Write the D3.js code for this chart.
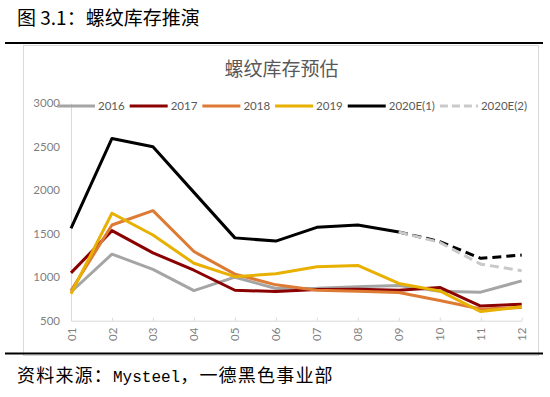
<!DOCTYPE html>
<html>
<head>
<meta charset="utf-8">
<script src="https://cdn.jsdelivr.net/npm/d3@7"></script>
<style>
  body { margin: 0; background: #fff; }
  svg { display: block; }
</style>
</head>
<body>
<div id="chart"></div>
<script>
// 月份
const months = ['01', '02', '03', '04', '05', '06', '07', '08', '09', '10', '11', '12'];
const yTicks = [500, 1000, 1500, 2000, 2500, 3000];

// 各年螺纹库存（万吨）
const inv2016 = [830, 1265, 1090, 845, 1000, 870, 872, 890, 905, 838, 828, 958];
const inv2017 = [1050, 1535, 1280, 1080, 850, 835, 860, 862, 850, 882, 668, 690];
const inv2018 = [845, 1600, 1765, 1295, 1035, 912, 850, 838, 825, 732, 635, 652];
const inv2019 = [810, 1735, 1485, 1160, 1006, 1040, 1121, 1135, 928, 842, 605, 660];
const inv2020E1 = [1560, 2595, 2500, 1975, 1452, 1415, 1573, 1600, 1520, 1410, 1217, 1255];
const inv2020E2 = [null, null, null, null, null, null, null, null, 1520, 1400, 1150, 1075];
const forecastFrom = 8; // 09 之后为预估

const seriesNames = ['2016', '2017', '2018', '2019', '2020E(1)', '2020E(2)'];
const seriesColors = ['#a5a5a5', '#8b0000', '#dd7a33', '#e8b000', '#000000', '#c9c9c9'];

const W = 550, H = 397;
const plot = { left: 71, right: 521.7, top: 103.2, bottom: 320.7 };

const svg = d3.select('#chart').append('svg')
  .attr('width', W)
  .attr('height', H);

// 标题与横线
svg.append('text')
  .attr('x', 17).attr('y', 25)
  .style('font-family', '"Noto Sans CJK SC"')
  .style('font-size', '19px')
  .style('fill', '#000')
  .text('图 3.1：螺纹库存推演');

svg.append('rect')
  .attr('x', 23.5).attr('y', 45.5)
  .attr('width', 515).attr('height', 310)
  .style('fill', 'none')
  .style('stroke', '#d9d9d9');

svg.append('line')
  .attr('x1', 5).attr('x2', 543).attr('y1', 43).attr('y2', 43)
  .style('stroke', '#000').style('stroke-width', 2);

svg.append('line')
  .attr('x1', 5).attr('x2', 543).attr('y1', 353.5).attr('y2', 353.5)
  .style('stroke', '#000').style('stroke-width', 2);

svg.append('text')
  .attr('x', 17).attr('y', 382)
  .style('font-family', '"Noto Sans CJK SC"')
  .style('font-size', '18px')
  .style('fill', '#000')
  .call(t => {
    t.append('tspan').style('letter-spacing', '1.2px').text('资料来源：');
    t.append('tspan').style('font-family', '"Liberation Mono"').style('font-size', '16px').text('Mysteel');
    t.append('tspan').style('letter-spacing', '1.2px').text('，一德黑色事业部');
  });

// 图表标题
svg.append('text')
  .attr('x', 281.5).attr('y', 76)
  .attr('text-anchor', 'middle')
  .style('font-family', '"Noto Sans CJK SC"')
  .style('font-size', '19px')
  .style('fill', '#595959')
  .text('螺纹库存预估');

// 比例尺
const x = d3.scalePoint().domain(months).range([plot.left, plot.right]);
const y = d3.scaleLinear().domain([500, 3000]).range([plot.bottom, plot.top]);

// Y 轴
const yAxis = svg.append('g')
  .attr('transform', `translate(${plot.left},0)`)
  .call(d3.axisLeft(y).tickValues(yTicks).tickFormat(d3.format('d')).tickSize(0).tickPadding(11));
yAxis.select('.domain').style('stroke', '#d9d9d9');
yAxis.selectAll('text')
  .style('font-family', 'Lato')
  .style('font-size', '11.5px')
  .style('fill', '#7f7f7f');

// X 轴
const xAxis = svg.append('g')
  .attr('transform', `translate(0,${plot.bottom})`)
  .call(d3.axisBottom(x).tickSizeInner(-3).tickSizeOuter(0));
xAxis.select('.domain').style('stroke', '#d9d9d9');
xAxis.selectAll('.tick line').style('stroke', '#d9d9d9');
xAxis.selectAll('text')
  .attr('transform', 'rotate(-90)')
  .attr('x', -7).attr('y', 0).attr('dy', '0.35em')
  .attr('text-anchor', 'end')
  .style('font-family', 'Lato')
  .style('font-size', '11.5px')
  .style('fill', '#7f7f7f');

// 折线
const line = d3.line()
  .defined(d => d[1] != null)
  .x(d => x(d[0]))
  .y(d => y(d[1]));

const pairs = arr => months.map((m, i) => [m, arr[i]]);

const lines = svg.append('g')
  .style('fill', 'none')
  .style('stroke-width', 3)
  .style('stroke-linejoin', 'round');

[inv2016, inv2017, inv2018, inv2019].forEach((arr, i) => {
  lines.append('path')
    .attr('d', line(pairs(arr)))
    .style('stroke', seriesColors[i]);
});

// 2020E(1)：实际部分实线，预估部分虚线
const e1 = pairs(inv2020E1);
lines.append('path')
  .attr('d', line(e1.slice(0, forecastFrom + 1)))
  .style('stroke', seriesColors[4]);
lines.append('path')
  .attr('d', line(e1.slice(forecastFrom)))
  .style('stroke', seriesColors[4])
  .style('stroke-dasharray', '9,5');

lines.append('path')
  .attr('d', line(pairs(inv2020E2)))
  .style('stroke', seriesColors[5])
  .style('stroke-dasharray', '9,5');

// 图例
const legend = svg.append('g');
let lx = 57;
seriesNames.forEach((name, i) => {
  legend.append('line')
    .attr('x1', lx).attr('x2', lx + 38)
    .attr('y1', 106).attr('y2', 106)
    .style('stroke', seriesColors[i])
    .style('stroke-width', 3)
    .style('stroke-dasharray', i === 5 ? '8,4' : null);
  const t = legend.append('text')
    .attr('x', lx + 41).attr('y', 106).attr('dy', '0.35em')
    .style('font-family', 'Lato')
    .style('font-size', '11.5px')
    .style('fill', '#595959')
    .text(name);
  lx += 41 + t.node().getComputedTextLength() + 5;
});
</script>
</body>
</html>
